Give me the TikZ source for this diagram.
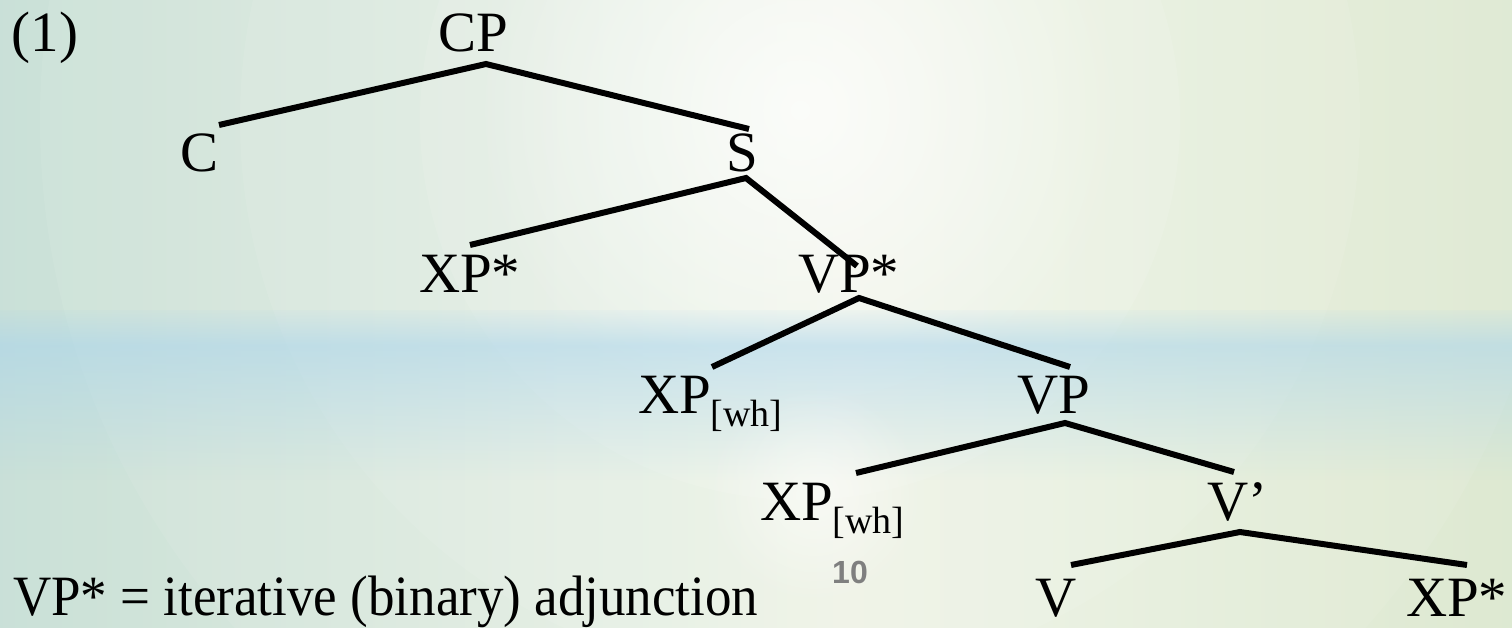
\documentclass[tikz,border=0pt]{standalone}
\usepackage{fontspec}
\setmainfont{Liberation Serif}
\newfontfamily\numfont{Liberation Sans}
\usetikzlibrary{fadings}

\definecolor{bgA}{HTML}{A9D0D5}
\definecolor{bgB}{HTML}{CDE2D8}
\definecolor{bgC}{HTML}{EEF3E6}
\definecolor{bgD}{HTML}{DEE9D2}
\definecolor{bgE}{HTML}{C6DDC6}
\definecolor{bandblue}{HTML}{A9D4EC}
\definecolor{pagegray}{HTML}{7F7F7F}

% soft radial fade used for glows
\tikzfading[name=softglow, inner color=transparent!0, outer color=transparent!100]
% vertical fades for the blue band
\tikzfading[name=bandfade, top color=transparent!0, bottom color=transparent!100]
\tikzfading[name=bandrise, top color=transparent!85, bottom color=transparent!0]

\pgfdeclarehorizontalshading{slidebg}{100bp}{%
  color(0bp)=(bgA); color(27.8bp)=(bgB); color(52.9bp)=(bgC);
  color(74.1bp)=(bgD); color(100bp)=(bgE)}

\newcommand{\wh}{\raisebox{-13pt}{\fontsize{38}{40}\selectfont[wh]}}

\begin{document}
\begin{tikzpicture}[x=1pt,y=-1pt,
  lbl/.style={inner sep=0pt, outer sep=0pt, anchor=base west,
              font=\fontsize{57}{62}\selectfont},
  branch/.style={line width=6pt, black, line cap=butt}]

% ---- background ----
\useasboundingbox (0,0) rectangle (1512,628);
\shade[shading=slidebg] (0,0) rectangle (1512,628);
\begin{scope}
  \clip (0,0) rectangle (1512,628);
  % wide soft rings around the bright spot
  \fill[white, fill opacity=0.07] (800,120) circle (760);
  \fill[white, fill opacity=0.08] (800,120) circle (560);
  \fill[white, fill opacity=0.10] (800,120) circle (380);
  \fill[white, path fading=softglow, fill opacity=0.75] (800,110) circle (330);
  % light blue band across the middle
  \fill[bandblue, path fading=bandrise, fill opacity=0.55] (-10,310) rectangle (1522,345);
  \fill[bandblue, path fading=bandfade, fill opacity=0.55] (-10,345) rectangle (1522,480);
  % pale disc low in the middle
  \fill[white, path fading=softglow, fill opacity=0.55] (815,495) circle (110);
\end{scope}

% ---- labels ----
\node[lbl] (ex)  at (12,52)    {(1)};
\node[lbl] (CP)  at (438,52)   {CP};
\node[lbl] (C)   at (180,172)  {C};
\node[lbl] (S)   at (726,172)  {S};
\node[lbl] (XPa) at (419,293)  {XP*};
\node[lbl] (VPs) at (798,293)  {VP*};
\node[lbl] (XPw) at (638,413)  {XP\wh};
\node[lbl] (VP)  at (1017,413) {VP};
\node[lbl] (XPv) at (760,520)  {XP\wh};
\node[lbl] (Vb)  at (1207,520) {V’};
\node[lbl] (V)   at (1035,616) {V};
\node[lbl] (XPb) at (1406,616) {XP*};
\node[lbl] (note) at (13,615)  {\scalebox{0.93}[1]{VP* = iterative (binary) adjunction}};
\node[inner sep=0pt, font=\numfont\bfseries\fontsize{32}{34}\selectfont,
      text=pagegray] (pg) at (850,572) {10};

% ---- branch end points ----
\coordinate (CP-d)  at (486,64);
\coordinate (C-u)   at (219,125);
\coordinate (S-u)   at (749,129);
\coordinate (S-d)   at (746,178);
\coordinate (XPa-u) at (470,245);
\coordinate (VPs-u) at (857,266);
\coordinate (VPs-d) at (859,298);
\coordinate (XPw-u) at (712,367);
\coordinate (VP-u)  at (1070,367);
\coordinate (VP-d)  at (1065,423);
\coordinate (XPv-u) at (856,473);
\coordinate (Vb-u)  at (1234,472);
\coordinate (Vb-d)  at (1240,532);
\coordinate (V-u)   at (1071,565);
\coordinate (XPb-u) at (1467,565);

% ---- branches ----
\draw[branch] (C-u) -- (CP-d) -- (S-u);
\draw[branch] (XPa-u) -- (S-d) -- (VPs-u);
\draw[branch] (XPw-u) -- (VPs-d) -- (VP-u);
\draw[branch] (XPv-u) -- (VP-d) -- (Vb-u);
\draw[branch] (V-u) -- (Vb-d) -- (XPb-u);
\end{tikzpicture}
\end{document}
